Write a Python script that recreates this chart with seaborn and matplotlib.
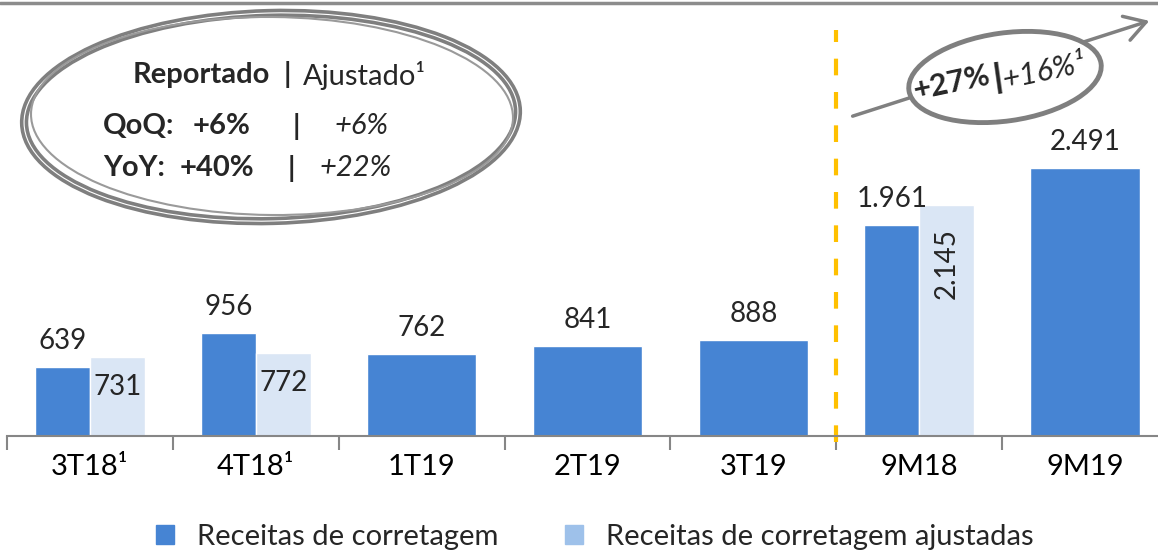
import pandas as pd
import matplotlib.pyplot as plt
import seaborn as sns
from matplotlib.patches import Ellipse, Patch, FancyArrowPatch

periodos = ["3T18¹", "4T18¹", "1T19", "2T19", "3T19", "9M18", "9M19"]
receitas = [639, 956, 762, 841, 888, 1961, 2491]
ajustadas = [731, 772, None, None, None, 2145, None]
series = ["Receitas de corretagem", "Receitas de corretagem ajustadas"]

dark = "#4684D3"
light = "#DAE6F5"
light_legend = "#9EC1EA"
gray = "#868686"

sns.set_theme(style="white")
plt.rcParams["font.family"] = ["Lato", "DejaVu Sans"]


def fmt(v):
    return f"{v:,.0f}".replace(",", ".")


# paired categories (with adjusted values) vs single-bar categories
pares = pd.DataFrame(
    [(p, series[0], r) for p, r, a in zip(periodos, receitas, ajustadas) if a is not None]
    + [(p, series[1], a) for p, r, a in zip(periodos, receitas, ajustadas) if a is not None],
    columns=["periodo", "serie", "valor"],
)
simples = pd.DataFrame(
    [(p, r) for p, r, a in zip(periodos, receitas, ajustadas) if a is None],
    columns=["periodo", "valor"],
)

W, H = 1158, 556
fig = plt.figure(figsize=(W / 100, H / 100), dpi=100)
# axes spans pixel x 7..1168, baseline at y=436, top at y=30
ax = fig.add_axes([7 / W, (H - 436) / H, 1161 / W, 406 / H])

sns.barplot(data=pares, x="periodo", y="valor", hue="serie", order=periodos,
            hue_order=series, palette=[dark, light], saturation=1, width=0.66,
            gap=0, legend=False, ax=ax)
sns.barplot(data=simples, x="periodo", y="valor", order=periodos, color=dark,
            saturation=1, width=0.66, ax=ax)

ymax = 406 / 0.1076
ax.set_xlim(-0.5, len(periodos) - 0.5)
ax.set_ylim(0, ymax)
ax.set_xlabel("")
ax.set_ylabel("")
ax.set_yticks([])
for s in ["left", "right", "top"]:
    ax.spines[s].set_visible(False)
ax.spines["bottom"].set_color(gray)
ax.spines["bottom"].set_linewidth(1.5)
ax.tick_params(axis="x", which="major", length=0, pad=13, labelsize=21, labelcolor="black")
ax.set_xticks([i - 0.5 for i in range(len(periodos) + 1)], minor=True)
ax.tick_params(axis="x", which="minor", bottom=True, length=10, width=1.5,
               color=gray, direction="out")

# value labels
off = 0.66 / 4
px = ymax / 406  # data units per pixel
for i, (r, a) in enumerate(zip(receitas, ajustadas)):
    if a is None:
        ax.text(i, r + 13 * px, fmt(r), ha="center", va="bottom", fontsize=20)
    else:
        ax.text(i - off, r + 13 * px, fmt(r), ha="center", va="bottom", fontsize=20)
        if a > 1000:
            ax.text(i + off, a - 58 * px, fmt(a), ha="center", va="center",
                    fontsize=20, rotation=90)
        else:
            ax.text(i + off, a - 30 * px, fmt(a), ha="center", va="center", fontsize=20)

# dashed separator between quarters and 9M totals
ax.plot([4.5, 4.5], [-6 * px, ymax], color="#FFC000", lw=3, ls=(0, (4, 4)),
        clip_on=False)

# overlay in pixel coordinates
ov = fig.add_axes([0, 0, 1, 1])
ov.set_xlim(0, W)
ov.set_ylim(H, 0)
ov.axis("off")
ov.patch.set_alpha(0)

ov.plot([0, W], [3, 3], color="#8C8C8C", lw=2.5)

ov.add_patch(Ellipse((271, 117), 494, 208, angle=-1.5, fill=False, ec="#7F7F7F", lw=6))
ov.add_patch(Ellipse((271, 117), 494, 208, angle=-1.5, fill=False, ec="white", lw=0.8))
ov.add_patch(Ellipse((272, 116), 482, 198, angle=0.5, fill=False, ec="#9A9A9A", lw=1.5))

fs = 21
ov.text(133, 75, "Reportado", fontsize=fs, fontweight="bold", va="center")
ov.text(284, 75, "|", fontsize=fs, fontweight="bold", va="center")
ov.text(303, 75, "Ajustado¹", fontsize=fs, va="center")
ov.text(103, 126, "QoQ:", fontsize=fs, fontweight="bold", va="center")
ov.text(193, 126, "+6%", fontsize=fs, fontweight="bold", va="center")
ov.text(293, 126, "|", fontsize=fs, fontweight="bold", va="center")
ov.text(335, 126, "+6%", fontsize=fs, fontstyle="italic", va="center")
ov.text(103, 168, "YoY:", fontsize=fs, fontweight="bold", va="center")
ov.text(180, 168, "+40%", fontsize=fs, fontweight="bold", va="center")
ov.text(288, 168, "|", fontsize=fs, fontweight="bold", va="center")
ov.text(320, 168, "+22%", fontsize=fs, fontstyle="italic", va="center")

ov.add_patch(FancyArrowPatch((850, 117), (1152, 20),
                             arrowstyle="->,head_length=10,head_width=6",
                             color="#808080", lw=2.5, mutation_scale=1.5))
ov.add_patch(Ellipse((1005, 77), 194, 88, angle=-8, fill=True, fc="white",
                     ec="#7F7F7F", lw=3.5))
ov.text(952, 83, "+27%", fontsize=22, fontweight="bold", ha="center", va="center", rotation=12)
ov.text(998, 78, "|", fontsize=24, fontweight="heavy", ha="center", va="center", rotation=8)
ov.text(1044, 71, "+16%¹", fontsize=22, fontstyle="italic", ha="center", va="center",
        rotation=12)

handles = [Patch(color=dark, label=series[0]), Patch(color=light_legend, label=series[1])]
fig.legend(handles=handles, loc="center", bbox_to_anchor=(595 / W, (H - 537) / H), ncol=2,
           frameon=False, fontsize=21, handlelength=0.6, handleheight=0.6,
           handletextpad=0.8, columnspacing=2.3)

plt.savefig("out.png", dpi=100)
plt.close()
